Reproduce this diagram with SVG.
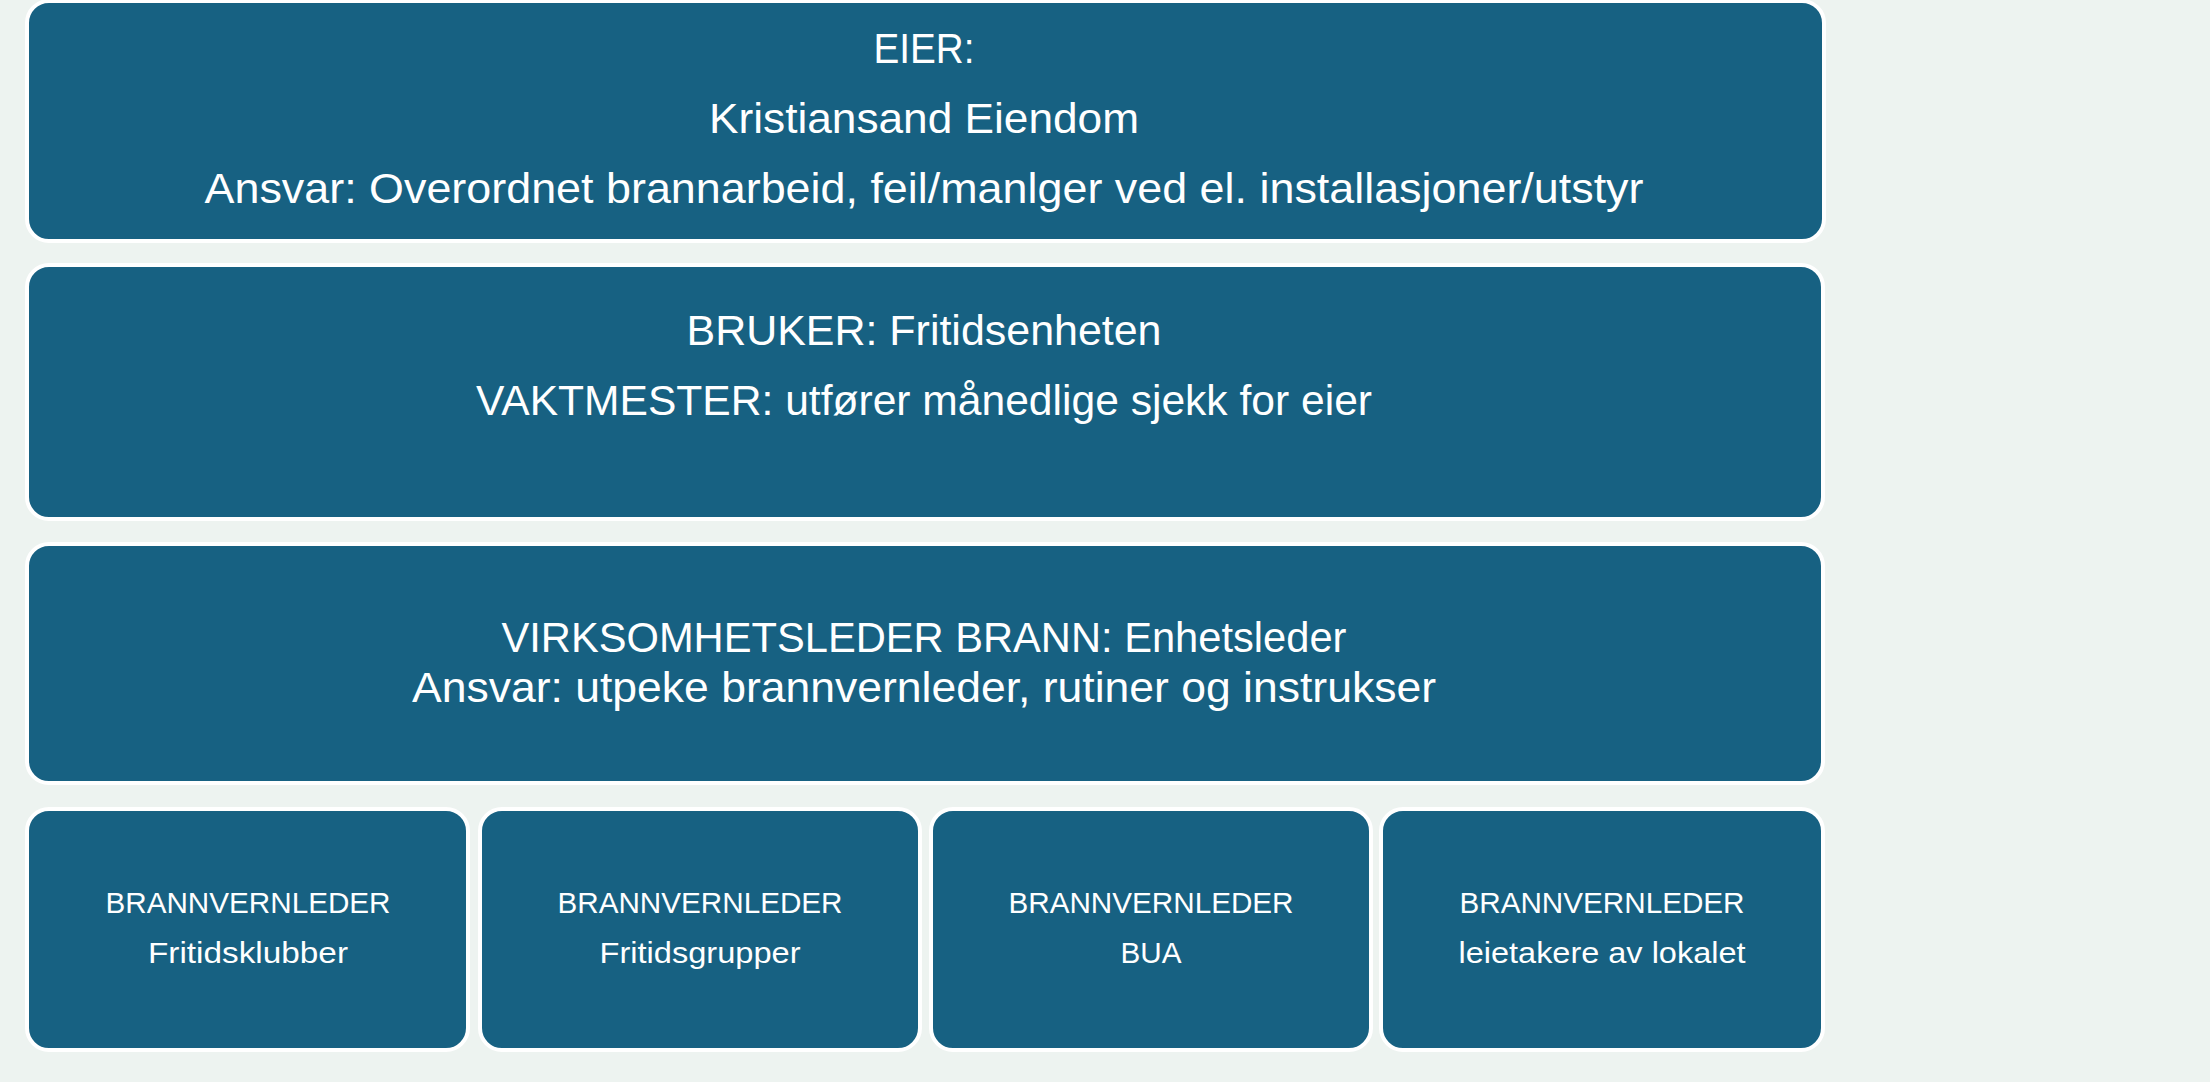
<svg xmlns="http://www.w3.org/2000/svg" width="2210" height="1082" viewBox="0 0 2210 1082">
<style>
.box{fill:#176182;stroke:#ffffff;stroke-width:4}
.t{font-family:"Liberation Sans",Arial,sans-serif;fill:#ffffff;text-anchor:middle}
.big{font-size:43px}
.small{font-size:30px}
</style>
<rect x="0" y="0" width="2210" height="1082" fill="#edf3f0"/>
<g id="connectors"></g>
<g id="eier">
<rect class="box" x="27" y="1" width="1797" height="240" rx="22"/>
<text class="t big" x="924" y="63" textLength="101" lengthAdjust="spacingAndGlyphs">EIER:</text>
<text class="t big" x="924" y="133" textLength="430" lengthAdjust="spacingAndGlyphs">Kristiansand Eiendom</text>
<text class="t big" x="924" y="203" textLength="1439" lengthAdjust="spacingAndGlyphs">Ansvar: Overordnet brannarbeid, feil/manlger ved el. installasjoner/utstyr</text>
</g>
<g id="bruker">
<rect class="box" x="27" y="265" width="1796" height="254" rx="22"/>
<text class="t big" x="924" y="345" textLength="475" lengthAdjust="spacingAndGlyphs">BRUKER: Fritidsenheten</text>
<text class="t big" x="924" y="415" textLength="896" lengthAdjust="spacingAndGlyphs">VAKTMESTER: utfører månedlige sjekk for eier</text>
</g>
<g id="virksomhetsleder">
<rect class="box" x="27" y="544" width="1796" height="239" rx="22"/>
<text class="t big" x="924" y="652" textLength="845" lengthAdjust="spacingAndGlyphs">VIRKSOMHETSLEDER BRANN: Enhetsleder</text>
<text class="t big" x="924" y="702" textLength="1024" lengthAdjust="spacingAndGlyphs">Ansvar: utpeke brannvernleder, rutiner og instrukser</text>
</g>
<g id="bvl-fritidsklubber">
<rect class="box" x="27" y="809" width="441" height="241" rx="22"/>
<text class="t small" x="248" y="913" textLength="285" lengthAdjust="spacingAndGlyphs">BRANNVERNLEDER</text>
<text class="t small" x="248" y="963" textLength="200" lengthAdjust="spacingAndGlyphs">Fritidsklubber</text>
</g>
<g id="bvl-fritidsgrupper">
<rect class="box" x="480" y="809" width="440" height="241" rx="22"/>
<text class="t small" x="700" y="913" textLength="285" lengthAdjust="spacingAndGlyphs">BRANNVERNLEDER</text>
<text class="t small" x="700" y="963" textLength="201" lengthAdjust="spacingAndGlyphs">Fritidsgrupper</text>
</g>
<g id="bvl-bua">
<rect class="box" x="931" y="809" width="440" height="241" rx="22"/>
<text class="t small" x="1151" y="913" textLength="285" lengthAdjust="spacingAndGlyphs">BRANNVERNLEDER</text>
<text class="t small" x="1151" y="963" textLength="61" lengthAdjust="spacingAndGlyphs">BUA</text>
</g>
<g id="bvl-leietakere">
<rect class="box" x="1381" y="809" width="442" height="241" rx="22"/>
<text class="t small" x="1602" y="913" textLength="285" lengthAdjust="spacingAndGlyphs">BRANNVERNLEDER</text>
<text class="t small" x="1602" y="963" textLength="287" lengthAdjust="spacingAndGlyphs">leietakere av lokalet</text>
</g>
</svg>
